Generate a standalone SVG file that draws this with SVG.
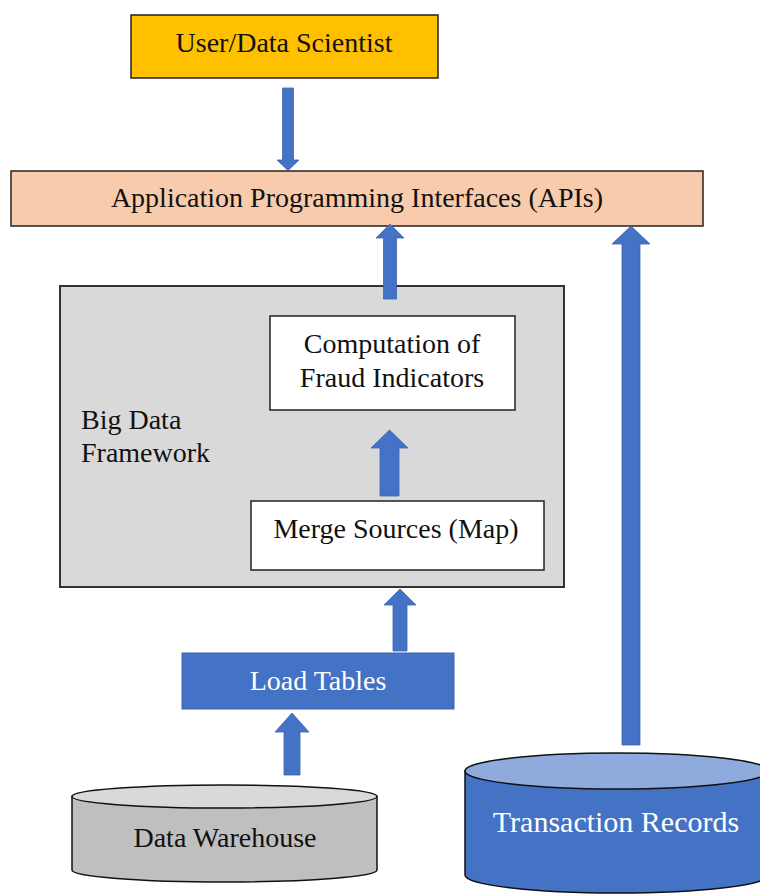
<svg xmlns="http://www.w3.org/2000/svg" width="760" height="895" viewBox="0 0 760 895">
<style>
  text { font-family: "Liberation Serif", "Times New Roman", serif; font-size: 28px; fill: #111; text-anchor: middle; }
  .box { stroke: #222; stroke-width: 1.5; }
  .wt { fill: #ffffff; }
  .arrow { fill: #4472C4; stroke: #3a64b0; stroke-width: 0.8; }
  .cyl { stroke: #111; stroke-width: 1.5; }
</style>
<rect width="760" height="895" fill="#ffffff"/>

<g id="user">
  <rect class="box" x="131" y="15" width="307" height="63" fill="#FFC000"/>
  <text x="284" y="52">User/Data Scientist</text>
</g>

<g id="apis">
  <rect class="box" x="11" y="171" width="692" height="55" fill="#F8CBAD"/>
  <text x="357" y="207">Application Programming Interfaces (APIs)</text>
</g>

<g id="bigdata">
  <rect x="60" y="286" width="504" height="301" fill="#D9D9D9" stroke="#333" stroke-width="2"/>
  <text x="81" y="429" style="text-anchor:start">Big Data</text>
  <text x="81" y="462" style="text-anchor:start">Framework</text>
</g>

<g id="computation">
  <rect class="box" x="270" y="316" width="245" height="94" fill="#ffffff"/>
  <text x="392" y="353">Computation of</text>
  <text x="392" y="387">Fraud Indicators</text>
</g>

<g id="merge">
  <rect class="box" x="251" y="501" width="293" height="69" fill="#ffffff"/>
  <text x="396" y="538">Merge Sources (Map)</text>
</g>

<g id="load">
  <rect x="182" y="653" width="272" height="56" fill="#4472C4" stroke="#3a64b0" stroke-width="1"/>
  <text class="wt" x="318" y="690">Load Tables</text>
</g>

<g id="warehouse">
  <path class="cyl" d="M72,796.5 L72,870 A152.5,12 0 0 0 377,870 L377,796.5 Z" fill="#BFBFBF"/>
  <ellipse class="cyl" cx="224.5" cy="796.5" rx="152.5" ry="11.5" fill="#D9D9D9"/>
  <text x="225" y="847">Data Warehouse</text>
</g>

<g id="transactions">
  <path class="cyl" d="M465,771 L465,875 A152,18 0 0 0 769,875 L769,771 Z" fill="#4472C4"/>
  <ellipse class="cyl" cx="617" cy="771" rx="152" ry="18" fill="#8FAADC"/>
  <text class="wt" x="616" y="832" style="font-size:30px">Transaction Records</text>
</g>

<g id="connectors">
  <polygon class="arrow" points="282.5,88 293.5,88 293.5,160 299,160 288,170.5 277,160 282.5,160"/>
  <polygon class="arrow" points="383.5,299 396.5,299 396.5,238 404,238 390,224 376,238 383.5,238"/>
  <polygon class="arrow" points="380,496 399,496 399,448 408,448 389.5,430 371,448 380,448"/>
  <polygon class="arrow" points="393,651 407,651 407,605 416,605 400,589 384,605 393,605"/>
  <polygon class="arrow" points="284,775 300,775 300,732 309,732 292,713 275,732 284,732"/>
  <polygon class="arrow" points="622,745 640,745 640,244 650,244 631,226 612,244 622,244"/>
</g>
</svg>
